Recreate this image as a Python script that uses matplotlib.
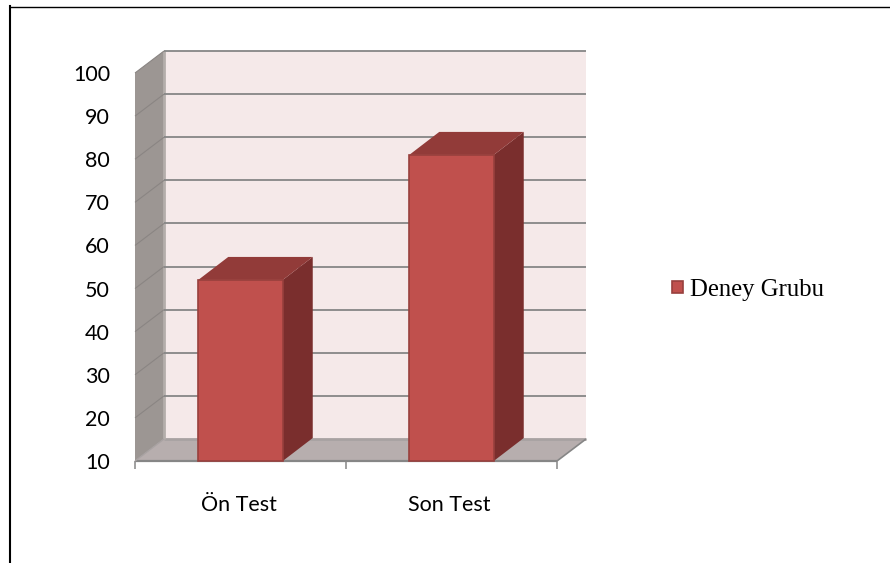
import matplotlib
matplotlib.use("Agg")
import matplotlib.pyplot as plt
from matplotlib.patches import Polygon, Rectangle
from matplotlib.lines import Line2D

categories = ["Ön Test", "Son Test"]
series_name = "Deney Grubu"
values = [52, 81]
y_ticks = [10, 20, 30, 40, 50, 60, 70, 80, 90, 100]

W, H = 890, 563
L, R, T, B = 135, 557, 73, 461
DX_PX, DY_PX = 29, 22
BAR_DX_PX, BAR_DY_PX = 30, 23

fig = plt.figure(figsize=(W / 100, H / 100), dpi=100, facecolor="white")
ax = fig.add_axes([L / W, 1 - B / H, (R - L) / W, (B - T) / H])
ax.set_xlim(0, len(categories))
ax.set_ylim(min(y_ticks), max(y_ticks))
ax.patch.set_visible(False)
for s in ax.spines.values():
    s.set_visible(False)

ux = (R - L) / len(categories)
uy = (B - T) / (max(y_ticks) - min(y_ticks))
dx, dy = DX_PX / ux, DY_PX / uy
bdx, bdy = BAR_DX_PX / ux, BAR_DY_PX / uy
y0, y1 = min(y_ticks), max(y_ticks)
xn = len(categories)


def poly(pts, fc, ec="none", lw=0, z=1):
    ax.add_patch(Polygon(pts, closed=True, facecolor=fc, edgecolor=ec,
                         linewidth=lw, zorder=z, clip_on=False))


def line(xs, ys, c="#868686", lw=1.3, z=2):
    ax.add_line(Line2D(xs, ys, color=c, lw=lw, zorder=z, clip_on=False,
                       solid_capstyle="butt"))


# walls
poly([(dx, y0 + dy), (xn + dx, y0 + dy), (xn + dx, y1 + dy), (dx, y1 + dy)], "#F5E9E9")
poly([(0, y0), (dx, y0 + dy), (dx, y1 + dy), (0, y1)], "#9C9693")
poly([(0, y0), (xn, y0), (xn + dx, y0 + dy), (dx, y0 + dy)], "#B7AEAE")
line([dx, xn + dx], [y0 + dy, y0 + dy], c="#A8A2A2", lw=2)
line([dx, dx], [y0 + dy, y1 + dy], c="#B4AEAB", lw=2)

# gridlines
for t in y_ticks[1:]:
    line([dx, xn + dx], [t + dy, t + dy])
    line([0, dx], [t, t + dy], c="#8A8583", lw=0.8)

# axis lines
line([0, xn], [y0, y0], lw=1.6, z=2)
line([xn, xn + dx], [y0, y0 + dy], lw=1.2, z=2)
line([0, dx], [y0, y0 + dy], c="#A8A2A2", lw=1.0, z=2)

# bars
bar_w = 84.5 / ux
for i, v in enumerate(values):
    x0 = i + 0.5 - bar_w / 2
    x1 = x0 + bar_w
    poly([(x1, y0), (x1 + bdx, y0 + bdy), (x1 + bdx, v + bdy), (x1, v)], "#7A2E2D", z=5)
    poly([(x0, v), (x1, v), (x1 + bdx, v + bdy), (x0 + bdx, v + bdy)], "#923B39", z=5)
    ax.add_patch(Rectangle((x0, y0), bar_w, v - y0, facecolor="#C0504D",
                           edgecolor="#98403D", linewidth=1.2, zorder=6, clip_on=False))

# ticks
ax.set_yticks(y_ticks)
ax.set_yticklabels([str(t) for t in y_ticks], fontfamily="Lato", fontsize=15.5, color="#000000")
ax.tick_params(axis="y", length=0, pad=18)
ax.set_xticks(range(len(categories) + 1))
ax.set_xticklabels([""] * (len(categories) + 1))
ax.tick_params(axis="x", length=5.5, width=1.2, color="#909090")
for i, c in enumerate(categories):
    ax.annotate(c, xy=(i + 0.5, y0), xytext=(-2, -44), textcoords="offset pixels",
                ha="center", va="center", fontfamily="Lato", fontsize=15.5, color="#000000")

# legend
ax_leg = fig.add_axes([0, 0, 1, 1])
ax_leg.set_xlim(0, W)
ax_leg.set_ylim(H, 0)
ax_leg.axis("off")
ax_leg.add_patch(Rectangle((672, 281), 11, 12, facecolor="#C0504D", edgecolor="#98403D", linewidth=1.2))
ax_leg.text(690, 290, series_name, fontfamily="Liberation Serif", fontsize=17.8,
            ha="left", va="center", color="#000000")

# outer frame: top and left edges only
ax_leg.add_line(Line2D([W, 9.5], [6.5, 6.5], color="#000000", lw=1.0))
ax_leg.add_line(Line2D([9.5, 9.5], [6, H], color="#000000", lw=1.5))

fig.savefig("out.png", dpi=100, facecolor="white")
